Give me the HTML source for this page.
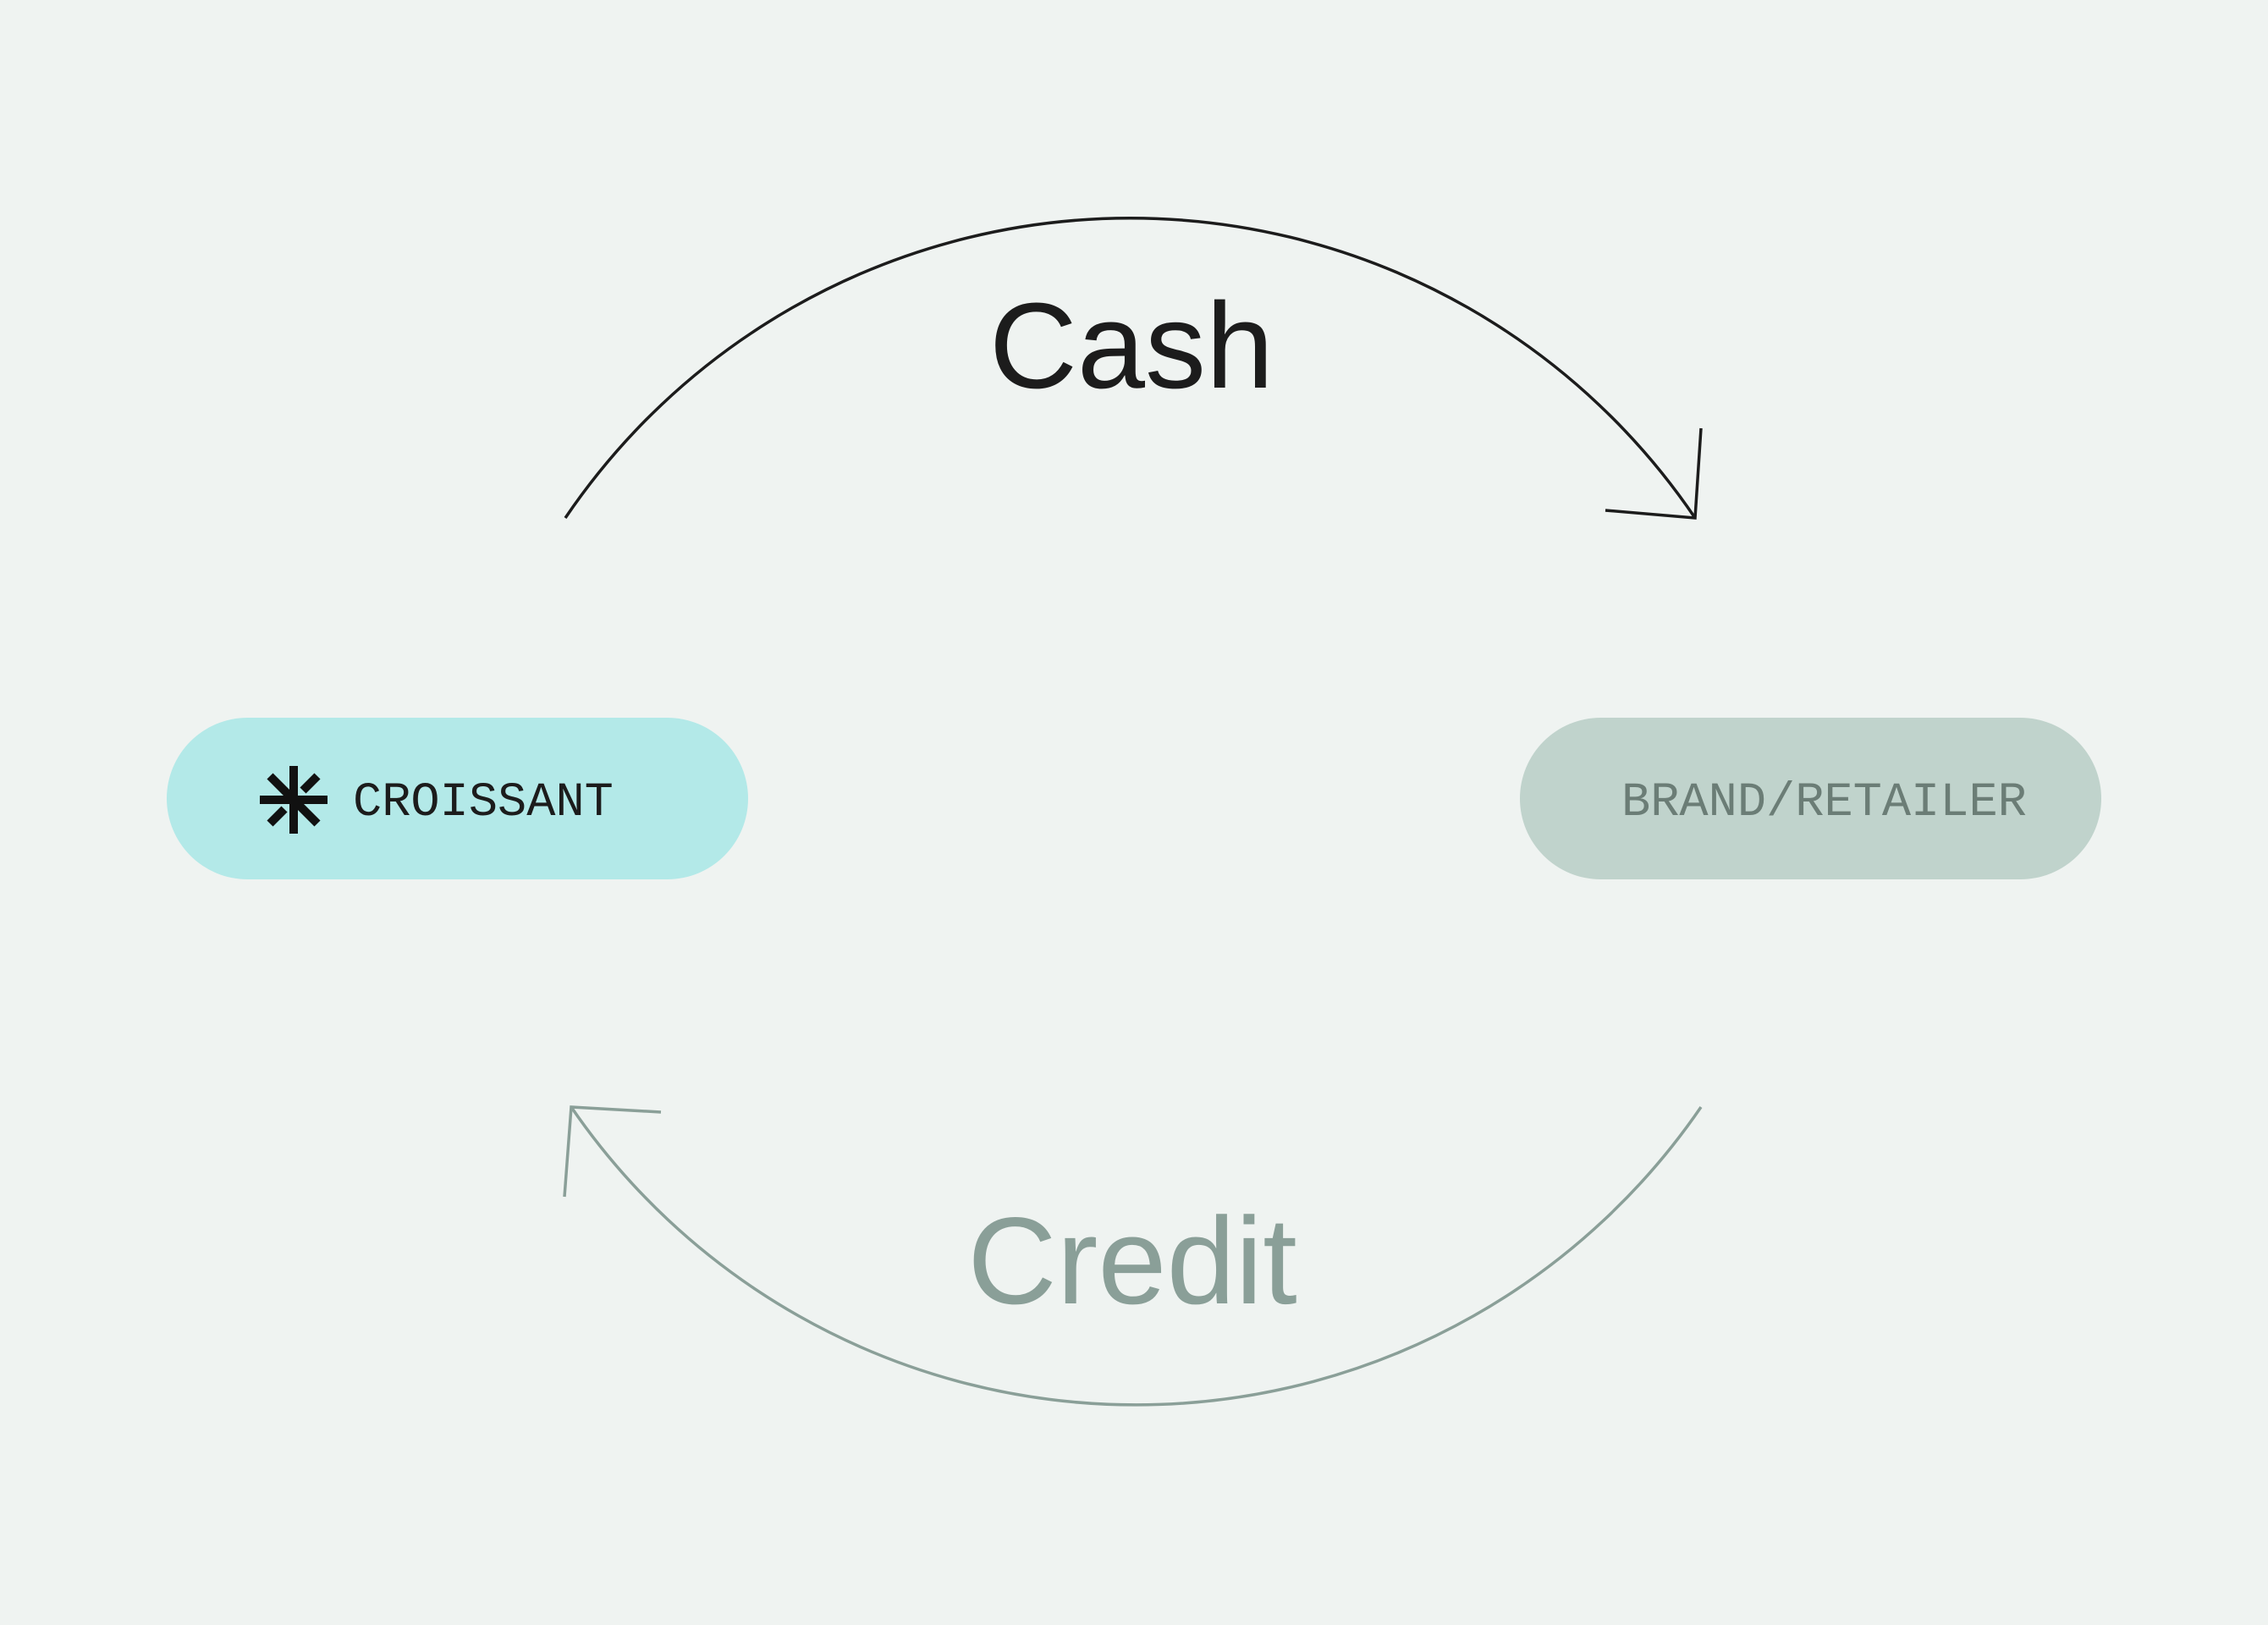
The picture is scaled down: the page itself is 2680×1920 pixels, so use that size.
<!DOCTYPE html>
<html><head><meta charset="utf-8"><style>
html,body{margin:0;padding:0;background:#eff3f1;}
body{width:2680px;height:1920px;position:relative;overflow:hidden;}
.pill{position:absolute;top:848px;height:191px;width:687px;border-radius:96px;}
.t{position:absolute;font-family:"Liberation Mono",monospace;font-size:57px;line-height:1;}
.big{position:absolute;font-family:"Liberation Sans",sans-serif;font-size:144px;line-height:1;transform:translateX(-50%);white-space:nowrap;}
</style></head><body>
<div class="pill" style="left:197px;background:#b3e9e8;"></div>
<div class="pill" style="left:1796px;background:#c0d3cc;"></div>
<svg width="2680" height="1920" style="position:absolute;left:0;top:0">
<path d="M668 612 A806 806 0 0 1 2003 612" fill="none" stroke="#1c1c1c" stroke-width="3.5"/>
<path d="M1897 603 L2003 612 L2010 506" fill="none" stroke="#1c1c1c" stroke-width="3.5"/>
<path d="M2010 1308 A809 809 0 0 1 675 1308" fill="none" stroke="#8a9f98" stroke-width="3.5"/>
<path d="M781 1314 L675 1308 L667 1414" fill="none" stroke="#8a9f98" stroke-width="3.5"/>
<g stroke="#111" stroke-width="10" fill="none">
<line x1="307" y1="945" x2="387" y2="945"/>
<line x1="347" y1="905" x2="347" y2="985"/>
<line x1="319" y1="917" x2="375" y2="973"/>
<line x1="319" y1="973" x2="336" y2="956"/>
<line x1="358" y1="934" x2="375" y2="917"/>
</g>
</svg>
<div class="t" style="left:417px;top:921px;color:#1c1c1c;">CROISSANT</div>
<div class="t" style="left:1916px;top:921px;color:#6b7d76;">BRAND/RETAILER</div>
<div class="big" style="left:1337px;top:337px;color:#1c1c1c;">Cash</div>
<div class="big" style="left:1338px;top:1417px;color:#8a9f98;font-size:146px;">Credit</div>
</body></html>
